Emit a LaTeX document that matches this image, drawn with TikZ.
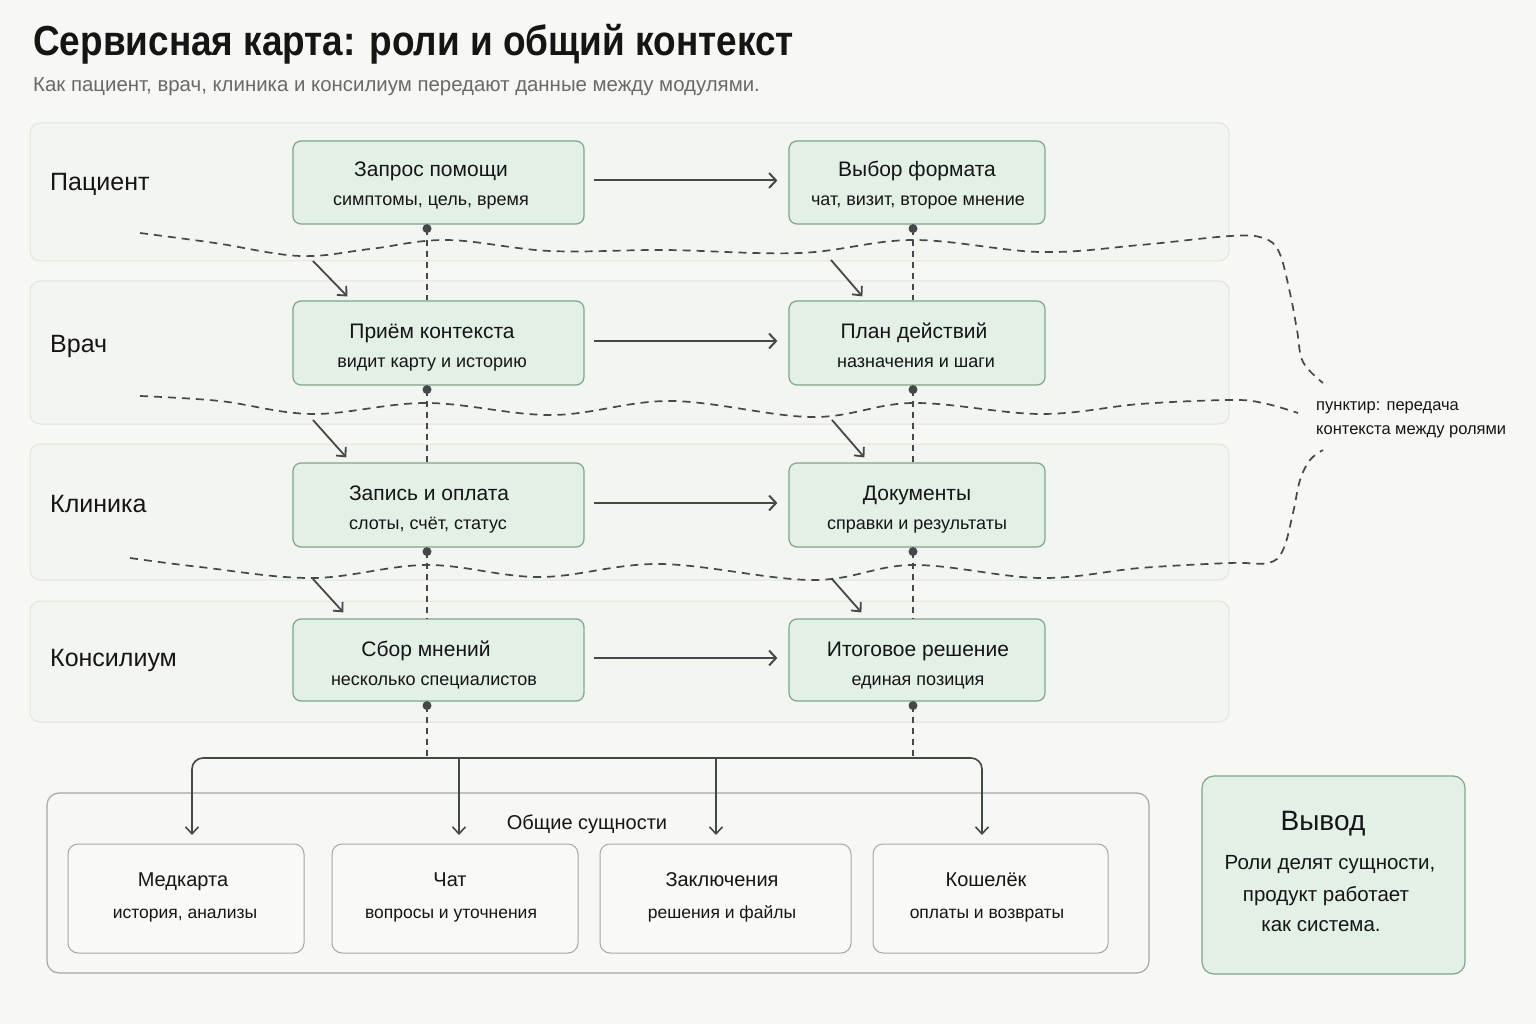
\documentclass[tikz,border=0pt]{standalone}
\usepackage{fontspec}
\setmainfont{Liberation Sans}
\newfontfamily\titlefont{Liberation Sans}[FakeStretch=0.88]
\usetikzlibrary{arrows.meta,calc}
\definecolor{bg}{HTML}{F7F7F4}
\definecolor{laneF}{HTML}{F2F5F0}
\definecolor{laneB}{HTML}{E0E6DF}
\definecolor{boxF}{HTML}{E2F0E6}
\definecolor{boxB}{HTML}{7FA58A}
\definecolor{entF}{HTML}{F9F9F7}
\definecolor{entB}{HTML}{A6A8A6}
\definecolor{ink}{HTML}{151515}
\definecolor{gray1}{HTML}{676B67}
\definecolor{lnc}{HTML}{43484B}
\newcommand\fsz[2]{\fontsize{#1}{#2}\selectfont}
\begin{document}
\begin{tikzpicture}[x=1pt,y=-1pt,
  lane/.style={draw=laneB, fill=laneF, line width=1pt, rounded corners=10pt},
  box/.style={draw=boxB, fill=boxF, line width=1.2pt, rounded corners=8pt},
  ent/.style={draw=entB, fill=entF, line width=1pt, rounded corners=10pt},
  cont/.style={draw=entB, fill=bg, line width=1.2pt, rounded corners=12pt},
  txt/.style={inner sep=0pt, anchor=base, text=ink},
  lanelbl/.style={inner sep=0pt, anchor=base west, text=ink, font=\fsz{25}{30}},
  btitle/.style={txt, font=\fsz{21}{25}},
  bsub/.style={txt, font=\fsz{18}{22}},
  etitle/.style={txt, font=\fsz{20}{24}},
  esub/.style={txt, font=\fsz{17.5}{21}},
  flow/.style={draw=lnc, line width=2pt, -{Straight Barb[length=7pt,width=15pt]}},
  diag/.style={draw=lnc, line width=1.8pt, -{Straight Barb[length=7pt,width=13pt]}},
  bus/.style={draw=lnc, line width=1.6pt},
  ctxv/.style={draw=lnc, line width=1.4pt, dash pattern=on 6pt off 5pt},
  wave/.style={draw=lnc, line width=1.7pt, dash pattern=on 8pt off 6pt},
  dotc/.style={fill=lnc}
]
\fill[bg] (0,0) rectangle (1536,1024);
\useasboundingbox (0,0) rectangle (1536,1024);

% title
\node[inner sep=0pt, anchor=base west, text=ink, font=\titlefont\bfseries\fsz{42}{48}] (title) at (33,56) {Сервисная карта: роли и общий контекст};
\node[inner sep=0pt, anchor=base west, text=gray1, font=\fsz{20.4}{24}] (subtitle) at (33,92) {Как пациент, врач, клиника и консилиум передают данные между модулями.};

% lanes
\node[lane, minimum width=1199pt, minimum height=138pt] (L1) at (629.5,192) {};
\node[lane, minimum width=1199pt, minimum height=143pt] (L2) at (629.5,352.5) {};
\node[lane, minimum width=1199pt, minimum height=136pt] (L3) at (629.5,512) {};
\node[lane, minimum width=1199pt, minimum height=121pt] (L4) at (629.5,661.5) {};
\node[lanelbl] (L1t) at (50,191) {Пациент};
\node[lanelbl] (L2t) at (50,352) {Врач};
\node[lanelbl] (L3t) at (50,512) {Клиника};
\node[lanelbl] (L4t) at (50,666) {Консилиум};

% wave lines (context transfer)
\draw[wave] plot[smooth, tension=0.6] coordinates {(140,233) (215,243) (300,256) (370,249) (447,240) (550,251) (665,250) (800,253) (913,240) (1040,252) (1140,245) (1230,236) (1263,238) (1279,252) (1290,293) (1297,330) (1303,362) (1323,383)};
\draw[wave] plot[smooth, tension=0.6] coordinates {(140,396) (220,401) (313,414) (427,403) (552,415) (671,401) (812,417) (913,403) (1040,414) (1140,404) (1230,400) (1263,403) (1298,413)};
\draw[wave] plot[smooth, tension=0.6] coordinates {(130,558) (200,567) (313,578) (427,565) (540,577) (660,564) (812,580) (913,565) (1040,578) (1140,568) (1230,563) (1268,563) (1283,550) (1293,513) (1300,480) (1310,460) (1323,450)};
\node[inner sep=0pt, anchor=base west, text=ink, font=\fsz{16.5}{20}] (note1) at (1316,410) {пунктир: передача};
\node[inner sep=0pt, anchor=base west, text=ink, font=\fsz{16.5}{20}] (note2) at (1316,434) {контекста между ролями};

% boxes
\node[box, minimum width=291pt, minimum height=83pt] (a1) at (438.5,182.5) {};
\node[box, minimum width=291pt, minimum height=84pt] (a2) at (438.5,343) {};
\node[box, minimum width=291pt, minimum height=84pt] (a3) at (438.5,505) {};
\node[box, minimum width=291pt, minimum height=82pt] (a4) at (438.5,660) {};
\node[box, minimum width=256pt, minimum height=83pt] (b1) at (917,182.5) {};
\node[box, minimum width=256pt, minimum height=84pt] (b2) at (917,343) {};
\node[box, minimum width=256pt, minimum height=84pt] (b3) at (917,505) {};
\node[box, minimum width=256pt, minimum height=82pt] (b4) at (917,660) {};

\node[btitle] (a1t) at (431,176.5) {Запрос помощи};
\node[bsub]   (a1s) at (431,205.5) {симптомы, цель, время};
\node[btitle] (b1t) at (917,176.5) {Выбор формата};
\node[bsub]   (b1s) at (918,205.5) {чат, визит, второе мнение};
\node[btitle] (a2t) at (432,338.5) {Приём контекста};
\node[bsub]   (a2s) at (432,367.5) {видит карту и историю};
\node[btitle] (b2t) at (914,338.5) {План действий};
\node[bsub]   (b2s) at (916,367.5) {назначения и шаги};
\node[btitle] (a3t) at (429,500.5) {Запись и оплата};
\node[bsub]   (a3s) at (428,529.5) {слоты, счёт, статус};
\node[btitle] (b3t) at (917,500.5) {Документы};
\node[bsub]   (b3s) at (917,529.5) {справки и результаты};
\node[btitle] (a4t) at (426,656.5) {Сбор мнений};
\node[bsub]   (a4s) at (434,685.5) {несколько специалистов};
\node[btitle] (b4t) at (918,656.5) {Итоговое решение};
\node[bsub]   (b4s) at (918,685.5) {единая позиция};

% horizontal flows
\foreach \i in {1,2,3,4}{
  \draw[flow] ([xshift=9pt,yshift=2pt]a\i.east) -- ([xshift=-11pt,yshift=2pt]b\i.west);
}

% vertical dashed context lines with dots
\foreach \i/\j in {1/2,2/3,3/4}{
  \draw[ctxv] ([xshift=-11.5pt,yshift=-4pt]a\i.south) -- ([xshift=-11.5pt]a\j.north);
  \draw[ctxv] ([xshift=-4pt,yshift=-4pt]b\i.south) -- ([xshift=-4pt]b\j.north);
}
\coordinate (busA) at (427,757);
\coordinate (busB) at (913,757);
\draw[ctxv] ([xshift=-11.5pt,yshift=-4pt]a4.south) -- (busA);
\draw[ctxv] ([xshift=-4pt,yshift=-4pt]b4.south) -- (busB);
\foreach \i in {1,2,3,4}{
  \fill[dotc] ([xshift=-11.5pt,yshift=-4pt]a\i.south) circle (4.5pt);
  \fill[dotc] ([xshift=-4pt,yshift=-4pt]b\i.south) circle (4.5pt);
}

% diagonal handoff arrows
\coordinate (d1a) at (313,261);
\coordinate (d1b) at (831,260);
\coordinate (d2a) at (313,420);
\coordinate (d2b) at (832,420);
\coordinate (d3a) at (313,579);
\coordinate (d3b) at (832,579);
\draw[diag] (d1a) -- ([xshift=55pt,yshift=4pt]a2.north west);
\draw[diag] (d1b) -- ([xshift=74pt,yshift=4pt]b2.north west);
\draw[diag] (d2a) -- ([xshift=54pt,yshift=5pt]a3.north west);
\draw[diag] (d2b) -- ([xshift=76pt,yshift=5pt]b3.north west);
\draw[diag] (d3a) -- ([xshift=51pt,yshift=6pt]a4.north west);
\draw[diag] (d3b) -- ([xshift=73pt,yshift=6pt]b4.north west);

% shared entities container
\node[cont, minimum width=1102pt, minimum height=180pt] (C) at (598,883) {};
\node[etitle] (Ct) at (587,829) {Общие сущности};
\node[ent, minimum width=236pt, minimum height=109pt] (e1) at (186,898.5) {};
\node[ent, minimum width=246pt, minimum height=109pt] (e2) at (455,898.5) {};
\node[ent, minimum width=251pt, minimum height=109pt] (e3) at (725.5,898.5) {};
\node[ent, minimum width=235pt, minimum height=109pt] (e4) at (990.5,898.5) {};
\node[etitle] (e1t) at (183,886) {Медкарта};
\node[esub]   (e1s) at (185,918) {история, анализы};
\node[etitle] (e2t) at (450,886) {Чат};
\node[esub]   (e2s) at (451,918) {вопросы и уточнения};
\node[etitle] (e3t) at (722,886) {Заключения};
\node[esub]   (e3s) at (722,918) {решения и файлы};
\node[etitle] (e4t) at (986,886) {Кошелёк};
\node[esub]   (e4s) at (987,918) {оплаты и возвраты};

% bus
\coordinate (t1) at (192,835);
\coordinate (t2) at (459,835);
\coordinate (t3) at (716,835);
\coordinate (t4) at (982,835);
\coordinate (bR) at (982,758);
\draw[bus, rounded corners=11pt, {Straight Barb[length=7pt,width=13pt]}-{Straight Barb[length=7pt,width=13pt]}] (t1) |- (bR) -- (t4);
\draw[bus, -{Straight Barb[length=7pt,width=13pt]}] (t2 |- bR) -- (t2);
\draw[bus, -{Straight Barb[length=7pt,width=13pt]}] (t3 |- bR) -- (t3);

% conclusion
\node[box, rounded corners=12pt, minimum width=263pt, minimum height=198pt] (V) at (1333.5,875) {};
\node[txt, font=\fsz{28}{32}] (Vt) at (1323,830) {Вывод};
\node[txt, font=\fsz{20.5}{24}] (V1) at (1330,869) {Роли делят сущности,};
\node[txt, font=\fsz{20.5}{24}] (V2) at (1326,901) {продукт работает};
\node[txt, font=\fsz{20.5}{24}] (V3) at (1321,931) {как система.};
\end{tikzpicture}
\end{document}
